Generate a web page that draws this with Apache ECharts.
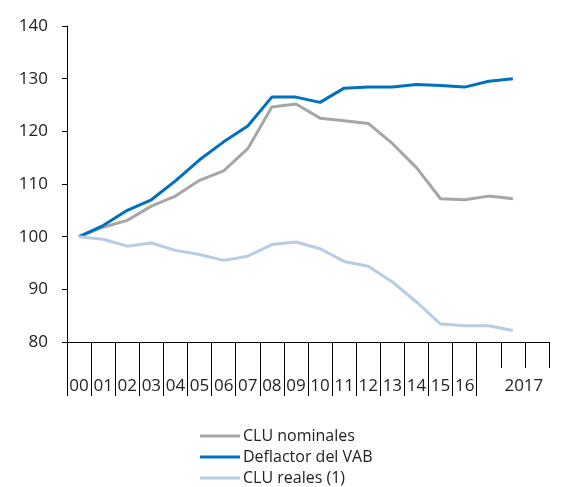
<!DOCTYPE html>
<html>
<head>
<meta charset="utf-8">
<script src="https://cdn.jsdelivr.net/npm/echarts@6/dist/echarts.min.js"></script>
<style>
  html, body { margin: 0; padding: 0; background: #fff; }
  #chart { width: 563px; height: 487px; }
</style>
</head>
<body>
<div id="chart"></div>
<script>
// categorias del eje X (la ultima queda sin etiqueta)
var years = ['00', '01', '02', '03', '04', '05', '06', '07', '08', '09', '10',
  '11', '12', '13', '14', '15', '16', '', '2017', '']

var cluNominales = [100, 101.8, 103.1, 105.8, 107.7, 110.7, 112.5, 116.7, 124.6, 125.2,
  122.5, 122.0, 121.5, 117.7, 113.1, 107.2, 107.0, 107.7, 107.2]
var deflactorVAB = [100, 102.1, 105.0, 107.0, 110.6, 114.6, 118.0, 121.0, 126.5, 126.5,
  125.5, 128.2, 128.4, 128.4, 128.9, 128.7, 128.4, 129.5, 130.0]
var cluReales = [100, 99.5, 98.2, 98.8, 97.4, 96.6, 95.5, 96.3, 98.5, 99.0,
  97.7, 95.3, 94.4, 91.4, 87.6, 83.4, 83.1, 83.1, 82.2]

var yTicks = { min: 80, max: 140, interval: 10 }

// eje auxiliar para los separadores largos entre etiquetas (uno por frontera)
var bounds = years.map(function() { return '' }).concat([''])

var font = '"Open Sans", "Noto Sans", sans-serif'
var myChart = echarts.init(document.getElementById('chart'))

var option = {
  backgroundColor: '#fff',
  animation: false,
  grid: { left: 67, right: 14, top: 26, bottom: 145 },
  legend: {
    orient: 'vertical',
    left: 200,
    top: 427,
    padding: 0,
    icon: 'rect',
    itemWidth: 40,
    itemHeight: 3,
    itemGap: 3,
    textStyle: { fontFamily: font, fontSize: 16, lineHeight: 18, color: '#222', padding: [0, 0, 0, -2] },
    data: ['CLU nominales', 'Deflactor del VAB', 'CLU reales (1)']
  },
  xAxis: [{
    type: 'category',
    data: years,
    boundaryGap: true,
    axisLine: { lineStyle: { color: '#000', width: 1 } },
    axisTick: { show: true, length: 26, lineStyle: { color: '#000' } },
    axisLabel: {
      interval: 0,
      margin: 36,
      fontFamily: font,
      fontSize: 17,
      color: '#222',
      formatter: function(v) {
        // 2017 va corrido hacia la derecha como en el original
        return v === '2017' ? '{y|' + v + '}' : v
      },
      rich: {
        y: { fontFamily: font, fontSize: 17, color: '#222', padding: [0, 0, 0, 22] }
      }
    },
    splitLine: { show: false }
  }, {
    type: 'category',
    data: bounds,
    boundaryGap: false,
    position: 'bottom',
    axisLine: { show: false },
    axisTick: {
      show: true,
      length: 54,
      interval: function(i) { return i <= 17 },
      lineStyle: { color: '#000' }
    },
    axisLabel: { show: false },
    splitLine: { show: false }
  }],
  yAxis: {
    type: 'value',
    min: yTicks.min,
    max: yTicks.max,
    interval: yTicks.interval,
    axisLine: { show: true, lineStyle: { color: '#000', width: 1 } },
    axisTick: { show: true, length: 5, lineStyle: { color: '#000' } },
    axisLabel: { margin: 19, fontFamily: font, fontSize: 17, color: '#222' },
    splitLine: { show: false }
  },
  series: [
    {
      name: 'CLU nominales',
      type: 'line',
      data: cluNominales,
      showSymbol: false,
      lineStyle: { color: '#a6a6a6', width: 3 },
      itemStyle: { color: '#a6a6a6' }
    },
    {
      name: 'Deflactor del VAB',
      type: 'line',
      data: deflactorVAB,
      showSymbol: false,
      lineStyle: { color: '#0070c0', width: 3 },
      itemStyle: { color: '#0070c0' }
    },
    {
      name: 'CLU reales (1)',
      type: 'line',
      data: cluReales,
      showSymbol: false,
      lineStyle: { color: '#b8cce4', width: 3 },
      itemStyle: { color: '#b8cce4' }
    }
  ]
}

myChart.setOption(option)
</script>
</body>
</html>
